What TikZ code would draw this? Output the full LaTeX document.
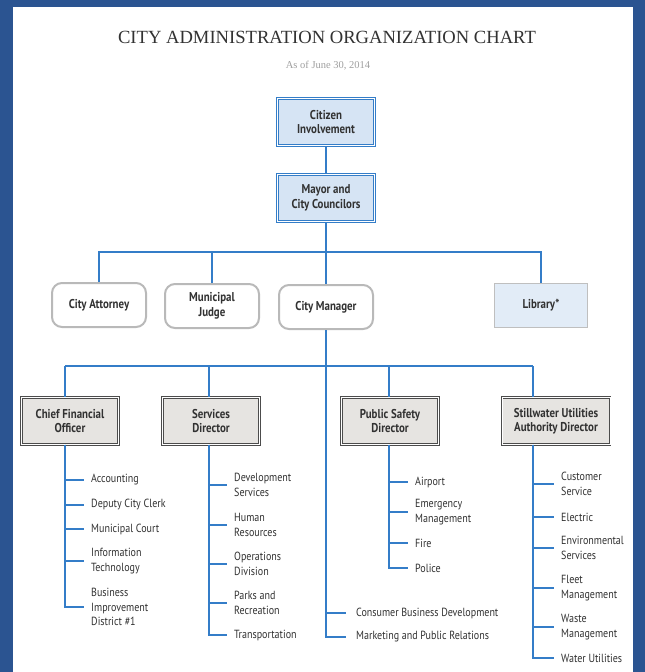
\documentclass[tikz,border=0pt]{standalone}
\usepackage{fontspec}
\setmainfont{Liberation Serif}
\newfontfamily\chartfont{PT Sans}[FakeStretch=0.85]
\usepackage{tikz}

\definecolor{frameblue}{RGB}{43,84,145}
\definecolor{linkblue}{RGB}{52,125,200}
\definecolor{boxblue}{RGB}{214,228,244}
\definecolor{libblue}{RGB}{226,236,247}
\definecolor{deptgray}{RGB}{230,228,225}
\definecolor{textgray}{RGB}{50,50,50}

\begin{document}
\begin{tikzpicture}[x=1pt, y=-1pt,
    link/.style={draw=linkblue, line width=2.4pt},
    boxtext/.style={align=center, text=textgray, font=\chartfont\bfseries\fontsize{12.8}{14.5}\selectfont},
    topbox/.style={boxtext, draw=linkblue, double=white, double distance=1.2pt, line width=1pt, fill=boxblue, minimum width=97pt, minimum height=47pt},
    roundbox/.style={boxtext, draw=gray!55, line width=2pt, rounded corners=10pt, fill=white, minimum width=94pt, minimum height=44pt},
    libbox/.style={boxtext, draw=gray!50, line width=0.8pt, fill=libblue, minimum width=93pt, minimum height=44pt},
    deptbox/.style={boxtext, draw=black!70, double=white, double distance=1pt, line width=0.9pt, fill=deptgray, minimum width=97pt, minimum height=47pt},
    item/.style={anchor=west, inner sep=0pt, align=left, text=textgray, font=\chartfont\fontsize{11.8}{14.5}\selectfont}]
                \useasboundingbox (0,0) rectangle (645,672);
                \fill[frameblue] (0,0) rectangle (645,672);
                \fill[white] (13,7) rectangle (633,672);

                \node[text=textgray, font=\fontsize{18.6}{22}\selectfont] (title) at (327,37) {CITY ADMINISTRATION ORGANIZATION CHART};
                \node[text=gray!75, font=\fontsize{10.5}{12}\selectfont] (date) at (328,66) {As of June 30, 2014};

                \node[topbox] (citizen) at (326,122) {Citizen\\Involvement};
                \node[topbox] (mayor) at (326,198) {Mayor and\\City Councilors};
                \node[roundbox] (attorney) at (99,305) {City Attorney};
                \node[roundbox] (judge) at (212,306) {Municipal\\Judge};
                \node[roundbox] (manager) at (326,307) {City Manager};
                \node[libbox] (library) at (541,305) {Library*};
                \node[deptbox] (cfo) at (70,421) {Chief Financial\\Officer};
                \node[deptbox] (serv) at (211,421) {Services\\Director};
                \node[deptbox] (ps) at (390,421) {Public Safety\\Director};
                \node[deptbox, minimum width=108pt] (still) at (556,421) {Stillwater Utilities\\Authority Director};

                \node[item] (acc) at (91,480) {Accounting};
                \node[item] (clerk) at (91,505) {Deputy City Clerk};
                \node[item] (court) at (91,529) {Municipal Court};
                \node[item] (it) at (91,561) {Information\\Technology};
                \node[item] (bid) at (91,607) {Business\\Improvement\\District \#1};

                \node[item] (dev) at (234,485) {Development\\Services};
                \node[item] (hr) at (234,525) {Human\\Resources};
                \node[item] (ops) at (234,564) {Operations\\Division};
                \node[item] (parks) at (234,603) {Parks and\\Recreation};
                \node[item] (trans) at (234,635) {Transportation};

                \node[item] (air) at (415,482) {Airport};
                \node[item] (ems) at (415,512) {Emergency\\Management};
                \node[item] (fire) at (415,543) {Fire};
                \node[item] (police) at (415,568) {Police};

                \node[item] (cbd) at (356,613) {Consumer Business Development};
                \node[item] (mpr) at (356,637) {Marketing and Public Relations};

                \node[item] (cust) at (561,484) {Customer\\Service};
                \node[item] (elec) at (561,517) {Electric};
                \node[item] (env) at (561,548) {Environmental\\Services};
                \node[item] (fleet) at (561,588) {Fleet\\Management};
                \node[item] (waste) at (561,627) {Waste\\Management};
                \node[item] (water) at (561,658) {Water Utilities};

                \coordinate (bus1) at (326,252);
                \coordinate (bus2) at (326,366);
                \coordinate (s-cfo) at (65,366);
                \coordinate (s-serv) at (209,366);
                \coordinate (s-ps) at (389,366);
                \coordinate (s-still) at (533,366);

                \draw[link] (citizen) -- (mayor);
                \draw[link] (mayor) -- (bus1);
                \draw[link] (attorney) |- (bus1) -| (library);
                \draw[link] (judge) -- (judge |- bus1);
                \draw[link] (bus1) -- (manager);
                \draw[link] (manager) -- (bus2);
                \draw[link] (s-cfo) -- (s-still);
                \foreach \d in {cfo,serv,ps,still}
                    \draw[link] (s-\d) -- (s-\d |- \d.north);
                \foreach \d/\i in {cfo/acc,cfo/clerk,cfo/court,cfo/it,cfo/bid,
                                   serv/dev,serv/hr,serv/ops,serv/parks,serv/trans,
                                   ps/air,ps/ems,ps/fire,ps/police,
                                   still/cust,still/elec,still/env,still/fleet,still/waste,still/water}
                    \draw[link] (s-\d |- \d.south) |- ([xshift=-7pt]\i.west);
                \draw[link] (bus2) |- ([xshift=-10pt]cbd.west);
                \draw[link] (bus2) |- ([xshift=-10pt]mpr.west);
            \end{tikzpicture}
\end{document}
